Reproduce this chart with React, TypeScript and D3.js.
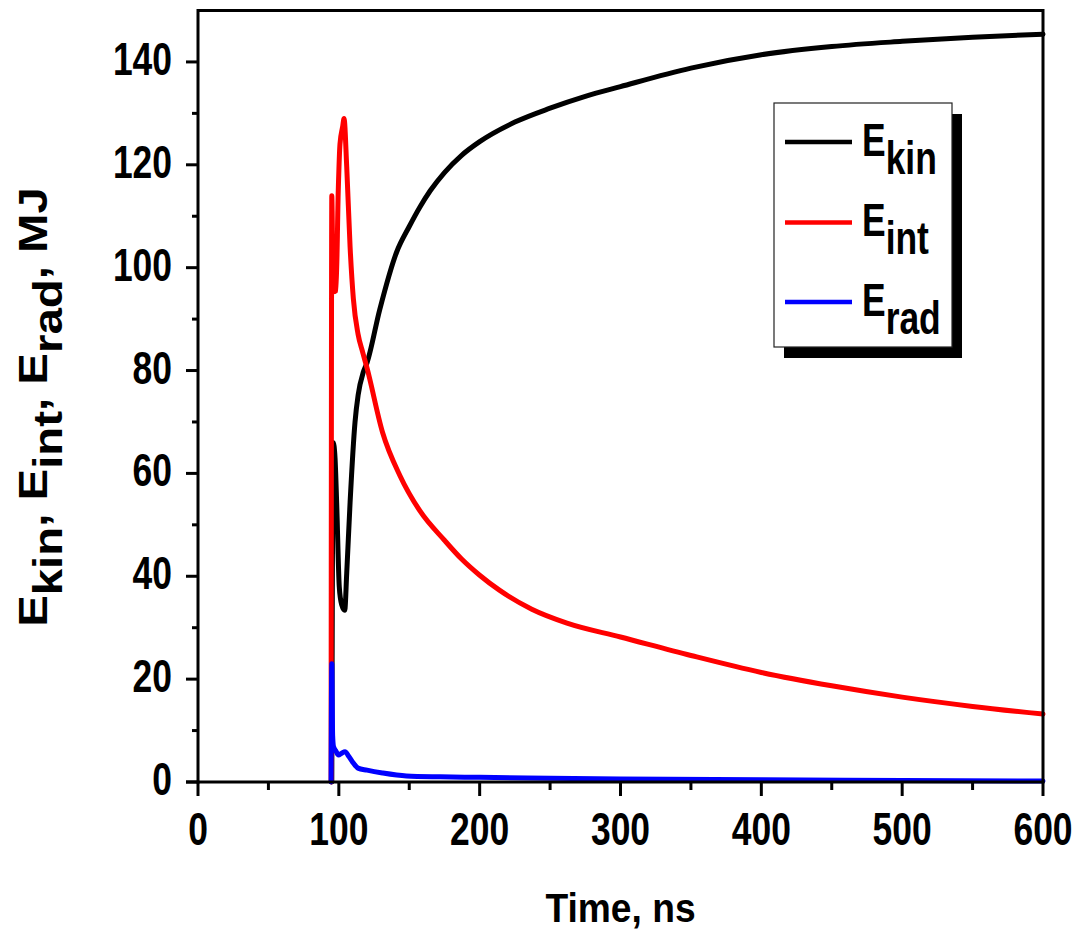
import React from 'react';
import * as d3 from 'd3';

// ---- data ----
const kinTime = [95, 96, 97.3, 98.5, 100.3, 102, 104.2, 105.6, 108, 111.5, 113.7, 117.4, 120, 129, 141, 150, 157.6, 165, 175, 187, 200, 225, 250, 275, 300, 350, 400, 450, 500, 550, 600];
const kinValues = [0, 66, 63, 54, 38, 34.5, 33.4, 40.6, 54.4, 70, 75.2, 79.7, 81.5, 91.8, 103, 108, 111.8, 115, 118.5, 121.8, 124.5, 128.3, 131, 133.3, 135.2, 138.8, 141.4, 143, 144, 144.8, 145.4];

const intTime = [94.5, 95, 96, 98, 99.6, 100.8, 102.7, 103.7, 105.6, 108, 110.3, 113.7, 117, 120, 131, 143.5, 157.6, 175, 187, 200, 214, 237, 262, 300, 350, 400, 450, 500, 550, 600];
const intValues = [0, 114, 95.3, 95.5, 115, 124, 127.4, 129, 119.6, 104, 94, 87, 83.5, 80.5, 68, 59.5, 52.7, 47, 43.4, 40.2, 37.3, 33.6, 30.9, 28.2, 24.6, 21.3, 18.7, 16.5, 14.7, 13.2];

const radTime = [94.5, 95, 95.6, 96.2, 98, 99.7, 102, 104.4, 107, 110, 113.6, 120, 131, 148, 172, 200, 250, 300, 400, 500, 600];
const radValues = [0, 23, 9, 6.9, 6, 5.25, 5.6, 5.9, 5.0, 3.8, 2.7, 2.3, 1.75, 1.17, 1.0, 0.9, 0.75, 0.6, 0.45, 0.3, 0.2];

const seriesSubs = ['kin', 'int', 'rad'];
const seriesColors = ['#000000', '#ff0000', '#0000ff'];

const xTicks = [0, 100, 200, 300, 400, 500, 600];
const xMinorTicks = [50, 150, 250, 350, 450, 550];
const yTicks = [0, 20, 40, 60, 80, 100, 120, 140];
const yMinorTicks = [10, 30, 50, 70, 90, 110, 130];

const xTitle = 'Time, ns';

const FONT = '"Liberation Sans", Arial, Helvetica, sans-serif';

export default function App() {
  const x = d3.scaleLinear().domain([0, 600]).range([198, 1043]);
  const y = d3.scaleLinear().domain([0, 150]).range([782, 10.5]);

  const line = d3
    .line<[number, number]>()
    .x((d) => x(d[0]))
    .y((d) => y(d[1]))
    .curve(d3.curveMonotoneX);

  const series = [
    d3.zip(kinTime, kinValues) as [number, number][],
    d3.zip(intTime, intValues) as [number, number][],
    d3.zip(radTime, radValues) as [number, number][],
  ];

  const left = x(0);
  const right = x(600);
  const top = y(150);
  const bottom = y(0);

  const legendX = 774;
  const legendY = 103;
  const legendW = 178;
  const legendH = 244;
  const legendRows = [142, 222.5, 302];

  return (
    <svg
      width={1078}
      height={934}
      style={{ position: 'absolute', left: 0, top: 0, background: '#fff' }}
      fontFamily={FONT}
      fontWeight="bold"
    >
      <rect x={0} y={0} width={1078} height={934} fill="#fff" />

      {/* curves */}
      {series.map((s, i) => (
        <path
          key={i}
          d={line(s) || ''}
          fill="none"
          stroke={seriesColors[i]}
          strokeWidth={5}
          strokeLinejoin="round"
          strokeLinecap="round"
        />
      ))}

      {/* frame */}
      <line x1={left} y1={top} x2={right} y2={top} stroke="#000" strokeWidth={3} />
      <line x1={right} y1={top - 1.5} x2={right} y2={bottom} stroke="#000" strokeWidth={3} />
      <line x1={left} y1={top - 1.5} x2={left} y2={bottom + 1.5} stroke="#000" strokeWidth={3} />
      <line x1={left - 12} y1={bottom} x2={right + 1.5} y2={bottom} stroke="#000" strokeWidth={3} />

      {/* x ticks */}
      {xTicks.map((t) => (
        <g key={'xt' + t}>
          <line x1={x(t)} y1={bottom} x2={x(t)} y2={bottom + 14} stroke="#000" strokeWidth={3} />
          <g transform={`translate(${x(t)},${bottom + 63}) scale(0.77,1)`}>
            <text textAnchor="middle" fontSize={46} fill="#000">
              {t}
            </text>
          </g>
        </g>
      ))}
      {xMinorTicks.map((t) => (
        <line key={'xm' + t} x1={x(t)} y1={bottom} x2={x(t)} y2={bottom + 8} stroke="#000" strokeWidth={3} />
      ))}

      {/* y ticks */}
      {yTicks.map((t) => (
        <g key={'yt' + t}>
          <line x1={left - 12} y1={y(t)} x2={left} y2={y(t)} stroke="#000" strokeWidth={3} />
          <g transform={`translate(${left - 26},${y(t) + 13}) scale(0.77,1)`}>
            <text textAnchor="end" fontSize={46} fill="#000">
              {t}
            </text>
          </g>
        </g>
      ))}
      {yMinorTicks.map((t) => (
        <line key={'ym' + t} x1={left - 6} y1={y(t)} x2={left} y2={y(t)} stroke="#000" strokeWidth={3} />
      ))}

      {/* x title */}
      <g transform={`translate(${(left + right) / 2},922) scale(0.93,1)`}>
        <text textAnchor="middle" fontSize={40} fill="#000">
          {xTitle}
        </text>
      </g>

      {/* y title */}
      <g transform={`translate(47,407) rotate(-90) scale(1,0.85)`}>
        <text textAnchor="middle" fontSize={47.4} fill="#000">
          <tspan>E</tspan>
          <tspan dy={17.5}>kin</tspan>
          <tspan dy={-17.5}>, E</tspan>
          <tspan dy={17.5}>int</tspan>
          <tspan dy={-17.5}>, E</tspan>
          <tspan dy={17.5}>rad</tspan>
          <tspan dy={-17.5}>, MJ</tspan>
        </text>
      </g>

      {/* legend */}
      <rect x={legendX + 10} y={legendY + 11} width={legendW} height={legendH} fill="#000" />
      <rect x={legendX} y={legendY} width={legendW} height={legendH} fill="#fff" stroke="#222" strokeWidth={1.2} />
      {seriesSubs.map((sub, i) => (
        <g key={'lg' + sub}>
          <line x1={785} y1={legendRows[i]} x2={852} y2={legendRows[i]} stroke={seriesColors[i]} strokeWidth={4.5} />
          <g transform={`translate(862,${legendRows[i] + 13.5}) scale(0.77,1)`}>
            <text fontSize={46} fill="#000">
              <tspan>E</tspan>
              <tspan dy={18}>{sub}</tspan>
            </text>
          </g>
        </g>
      ))}
    </svg>
  );
}
